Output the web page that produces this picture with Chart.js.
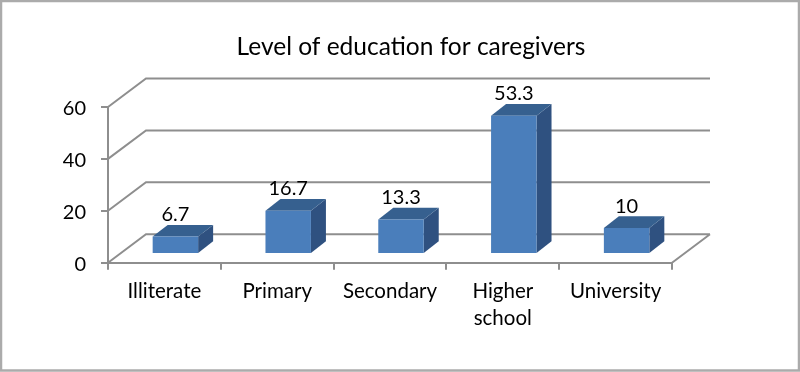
<!DOCTYPE html>
<html lang="en">

<head>
  <meta charset="UTF-8">
  <title>Level of education for caregivers</title>
  <style>
    html, body { margin: 0; padding: 0; background: #fff; }
    #wrap { width: 800px; height: 372px; }
  </style>
</head>

<body>
  <div id="wrap"><canvas id="eduChart" width="800" height="372"></canvas></div>

  <script src="https://cdn.jsdelivr.net/npm/chart.js"></script>
  <script>
    const chartTitle = 'Level of education for caregivers';
    const categories = ['Illiterate', 'Primary', 'Secondary', ['Higher', 'school'], 'University'];
    const percentages = [6.7, 16.7, 13.3, 53.3, 10];
    const percentLabels = ['6.7', '16.7', '13.3', '53.3', '10'];

    const fontName = 'Lato, "Open Sans", sans-serif';
    const gridColor = '#8e8e8e';

    // fake 3D: how far the back wall and the bars sit from the axis plane
    const wallDx = 38, wallDy = -28.5;
    const barDx = 11, barDy = -8.7;
    const sideDx = 15, sideDy = -11.7;

    const face = (ctx, color, pts) => {
      ctx.fillStyle = color;
      ctx.beginPath();
      pts.forEach((p, i) => i ? ctx.lineTo(p[0], p[1]) : ctx.moveTo(p[0], p[1]));
      ctx.closePath();
      ctx.fill();
    };

    const threeD = {
      id: 'threeD',
      afterLayout(chart) {
        // the title is centred a bit right of the canvas middle
        chart.titleBlock.left = 22;
        chart.titleBlock.right = 800;
      },
      beforeDraw(chart) {
        const { ctx, scales: { x, y } } = chart;
        ctx.save();
        ctx.strokeStyle = '#ababab';
        ctx.lineWidth = 2.5;
        ctx.strokeRect(1, 1, 798, 369.5);

        // walls and floor
        ctx.strokeStyle = gridColor;
        ctx.lineWidth = 2;
        ctx.beginPath();
        y.ticks.forEach(t => {
          const py = y.getPixelForValue(t.value);
          ctx.moveTo(x.left, py);
          ctx.lineTo(x.left + wallDx, py + wallDy);
          ctx.lineTo(x.right + wallDx, py + wallDy);
        });
        const by = y.getPixelForValue(0);
        ctx.moveTo(x.right, by);
        ctx.lineTo(x.right + wallDx, by + wallDy);
        ctx.stroke();
        ctx.restore();
      },
      beforeDatasetsDraw(chart) {
        const { ctx } = chart;
        ctx.save();
        ctx.translate(barDx, barDy);
        chart.getDatasetMeta(0).data.forEach(bar => {
          const l = bar.x - bar.width / 2, r = bar.x + bar.width / 2;
          face(ctx, '#2f5180', [[r, bar.y], [r + sideDx, bar.y + sideDy], [r + sideDx, bar.base + sideDy], [r, bar.base]]);
          face(ctx, '#36608f', [[l, bar.y], [l + sideDx, bar.y + sideDy], [r + sideDx, bar.y + sideDy], [r, bar.y]]);
        });
      },
      afterDatasetsDraw(chart) {
        const { ctx } = chart;
        ctx.restore();
        ctx.save();
        ctx.fillStyle = '#000';
        ctx.font = '20px ' + fontName;
        ctx.textAlign = 'center';
        ctx.textBaseline = 'alphabetic';
        chart.getDatasetMeta(0).data.forEach((bar, i) => {
          ctx.fillText(percentLabels[i], bar.x + barDx, bar.y + barDy - 15.5);
        });
        ctx.restore();
      }
    };

    new Chart(document.getElementById('eduChart'), {
      type: 'bar',
      data: {
        labels: categories,
        datasets: [{
          data: percentages,
          backgroundColor: '#4a7ebb',
          barPercentage: 0.403,
          categoryPercentage: 1,
          clip: false
        }]
      },
      options: {
        responsive: false,
        animation: false,
        layout: { padding: { left: 0, right: 128, top: 0, bottom: 0 } },
        plugins: {
          legend: { display: false },
          tooltip: { enabled: false },
          title: {
            display: true,
            text: chartTitle,
            color: '#000',
            font: { family: fontName, size: 24.5, weight: 'normal', lineHeight: 1.2 },
            padding: { top: 32, bottom: 45.6 }
          }
        },
        scales: {
          x: {
            afterFit: scale => { scale.height = 109.3; },
            grid: { drawOnChartArea: false, color: gridColor, lineWidth: 2, tickLength: 7 },
            border: { color: gridColor, width: 2 },
            ticks: {
              color: '#000',
              padding: 8,
              maxRotation: 0,
              autoSkip: false,
              font: { family: fontName, size: 20.5, lineHeight: 1.32 }
            }
          },
          y: {
            min: 0,
            max: 60,
            afterFit: scale => { scale.width = 108; },
            grid: { drawOnChartArea: false, color: gridColor, lineWidth: 2, tickLength: 7 },
            border: { color: gridColor, width: 2 },
            ticks: {
              stepSize: 20,
              color: '#000',
              padding: 15,
              labelOffset: 2,
              font: { family: fontName, size: 20 }
            }
          }
        }
      },
      plugins: [threeD]
    });
  </script>
</body>

</html>
